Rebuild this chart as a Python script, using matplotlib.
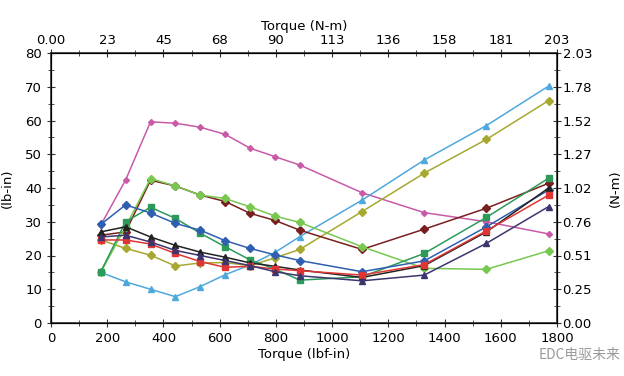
import matplotlib.pyplot as plt
import numpy as np
from matplotlib.ticker import MultipleLocator

# torque test points (N-m), plotted against lbf-in
torque_nm = [20, 30, 40, 50, 60, 70, 80, 90, 100, 125, 150, 175, 200]
NM_TO_LBFIN = 8.8507

pink = [29, 42.4, 59.6, 59.2, 58, 55.9, 51.8, 49.3, 46.8, 38.6, 32.7, 30, 26.4]
light_blue = [15, 12.2, 10, 7.8, 10.8, 14.3, 17.2, 20.9, 25.6, 36.4, 48.3, 58.5, 70.2]
olive = [24.6, 22.1, 20.1, 16.9, 17.8, 17.9, 17, 19.3, 21.8, 33, 44.4, 54.4, 65.9]
dark_red = [26, 27, 42.3, 40.6, 37.9, 36, 32.5, 30.4, 27.5, 21.8, 27.8, 34, 41.4]
green = [15, 28.5, 42.8, 40.6, 37.9, 36.9, 34.4, 31.7, 29.8, 22.6, 16.2, 15.9, 21.4]
teal = [15.2, 30, 34.3, 31, 26.6, 22.6, 18.7, 16, 12.7, 13.7, 20.6, 31.3, 42.9]
blue = [29.2, 35, 32.6, 29.5, 27.5, 24.4, 22.1, 20.2, 18.5, 15.2, 18.4, 28.5, 39.4]
black = [27, 28.5, 25.5, 23, 21, 19.5, 17.8, 16.8, 15.7, 13.5, 17, 27, 40]
red = [24.6, 24.6, 23.4, 20.6, 18.2, 16.5, 16.8, 16, 15.5, 14.2, 17.3, 27.3, 37.9]
navy = [25.5, 26, 24, 21.5, 20, 18.5, 17, 15.2, 14, 12.5, 14.2, 23.6, 34.5]

bottom_ticks = [0, 200, 400, 600, 800, 1000, 1200, 1400, 1600, 1800]
top_labels = ['0.00', '23', '45', '68', '90', '113', '136', '158', '181', '203']
left_ticks = [0, 10, 20, 30, 40, 50, 60, 70, 80]
right_labels = ['0.00', '0.25', '0.51', '0.76', '1.02', '1.27', '1.52', '1.78', '2.03']

plt.rcParams['font.family'] = ['Liberation Sans Narrow', 'DejaVu Sans']
plt.rcParams['font.size'] = 9.5

x = np.array(torque_nm) * NM_TO_LBFIN

fig = plt.figure(figsize=(6.24, 3.76), dpi=100)
ax = fig.add_axes([51/624, 1-323/376, 506/624, 270/376])

series = [
    (pink, '#c85aa8', 'D', 3),
    (light_blue, '#4ea8dc', '^', 4),
    (olive, '#a6a830', 'D', 4),
    (dark_red, '#7a1f1f', 'D', 4),
    (green, '#78c850', 'D', 4),
    (teal, '#2e9a5a', 's', 4.5),
    (blue, '#2f5fb0', 'D', 4.5),
    (black, '#222222', '^', 4),
    (red, '#e03535', 's', 4.5),
    (navy, '#3b3570', '^', 4),
]
for vals, col, mk, ms in series:
    ax.plot(x, vals, color=col, marker=mk, markersize=ms, linewidth=1.1)

ax.set_xlim(0, 1800)
ax.set_ylim(0, 80)
ax.set_xticks(bottom_ticks)
ax.set_yticks(left_ticks)
ax.xaxis.set_minor_locator(MultipleLocator(100))
ax.yaxis.set_minor_locator(MultipleLocator(5))
ax.tick_params(which='both', direction='inout', color='#333333')
ax.tick_params(which='major', length=6)
ax.tick_params(which='minor', length=4)
ax.set_xlabel('Torque (lbf-in)', labelpad=2)
ax.set_ylabel('(lb-in)', labelpad=8)
for s in ax.spines.values():
    s.set_color('#333333')
    s.set_linewidth(1.2)

# top axis in N-m
axt = ax.twiny()
axt.set_xlim(0, 1800)
axt.set_xticks(bottom_ticks)
axt.set_xticklabels(top_labels)
axt.xaxis.set_minor_locator(MultipleLocator(100))
axt.tick_params(which='both', direction='inout', color='#333333', pad=1)
axt.tick_params(which='major', length=6)
axt.tick_params(which='minor', length=4)
axt.set_xlabel('Torque (N-m)', labelpad=3)

# right axis in metric
axr = ax.twinx()
axr.set_ylim(0, 80)
axr.set_yticks(left_ticks)
axr.set_yticklabels(right_labels)
axr.yaxis.set_minor_locator(MultipleLocator(5))
axr.tick_params(which='both', direction='inout', color='#333333', pad=1)
axr.tick_params(which='major', length=6)
axr.tick_params(which='minor', length=4)
axr.set_ylabel('(N-m)', labelpad=12)

fig.text(0.995, 0.055, 'EDC电驱未来', ha='right', va='center', color='#9a9a9a',
         fontsize=10, family=['Noto Sans CJK SC', 'DejaVu Sans'])

fig.savefig('out.png', dpi=100)
